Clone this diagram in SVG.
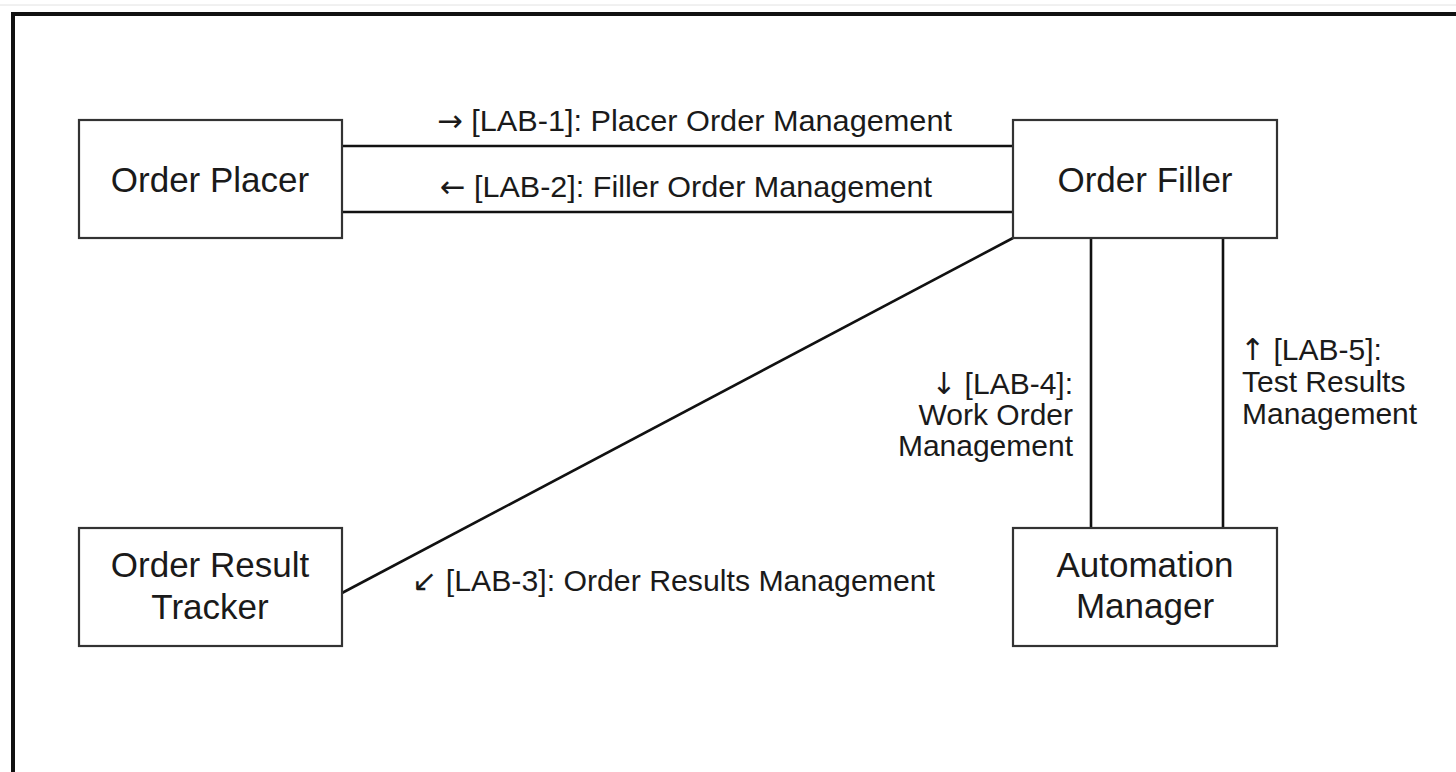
<svg xmlns="http://www.w3.org/2000/svg" width="1456" height="772" viewBox="0 0 1456 772">
<style>
.box{fill:#fff;stroke:#333;stroke-width:2.2}
.ntext{font-family:"Liberation Sans",Arial,sans-serif;font-size:35px;fill:#1a1a1a;text-anchor:middle}
.ltext{font-family:"Liberation Sans","DejaVu Sans",Arial,sans-serif;font-size:30px;fill:#1a1a1a}
.arr{font-family:"DejaVu Sans",sans-serif;fill:#1a1a1a}
.conn{stroke:#111;stroke-width:2.6;fill:none}
</style>
<rect x="0" y="0" width="1456" height="772" fill="#fff"/>
<line x1="0" y1="5" x2="1456" y2="5" stroke="#e2e2e2" stroke-width="1"/>
<path d="M13,772 V14 H1456" fill="none" stroke="#111" stroke-width="4"/>
<g id="connectors">
<line class="conn" x1="342" y1="146" x2="1013" y2="146"/>
<line class="conn" x1="342" y1="212" x2="1013" y2="212"/>
<line class="conn" x1="342" y1="593" x2="1013" y2="238"/>
<line class="conn" x1="1091" y1="238" x2="1091" y2="528"/>
<line class="conn" x1="1223" y1="238" x2="1223" y2="528"/>
<text class="ltext" x="437" y="131" textLength="515" lengthAdjust="spacingAndGlyphs"><tspan class="arr">→</tspan> [LAB-1]: Placer Order Management</text>
<text class="ltext" x="440" y="197" textLength="492" lengthAdjust="spacingAndGlyphs"><tspan class="arr">←</tspan> [LAB-2]: Filler Order Management</text>
<text class="ltext" x="412" y="591" textLength="523" lengthAdjust="spacingAndGlyphs"><tspan class="arr">↙</tspan> [LAB-3]: Order Results Management</text>
<text class="ltext" text-anchor="end"><tspan x="1073" y="394"><tspan class="arr">↓</tspan> [LAB-4]:</tspan><tspan x="1073" y="425">Work Order</tspan><tspan x="1073" y="456">Management</tspan></text>
<text class="ltext"><tspan x="1240" y="360"><tspan class="arr">↑</tspan> [LAB-5]:</tspan><tspan x="1242" y="392">Test Results</tspan><tspan x="1242" y="424">Management</tspan></text>
</g>
<g id="order-placer">
<rect class="box" x="79" y="120" width="263" height="118"/>
<text class="ntext" x="210" y="192">Order Placer</text>
</g>
<g id="order-filler">
<rect class="box" x="1013" y="120" width="264" height="118"/>
<text class="ntext" x="1145" y="192">Order Filler</text>
</g>
<g id="order-result-tracker">
<rect class="box" x="79" y="528" width="263" height="118"/>
<text class="ntext" x="210" y="577">Order Result</text>
<text class="ntext" x="210" y="619">Tracker</text>
</g>
<g id="automation-manager">
<rect class="box" x="1013" y="528" width="264" height="118"/>
<text class="ntext" x="1145" y="577">Automation</text>
<text class="ntext" x="1145" y="618">Manager</text>
</g>
</svg>
